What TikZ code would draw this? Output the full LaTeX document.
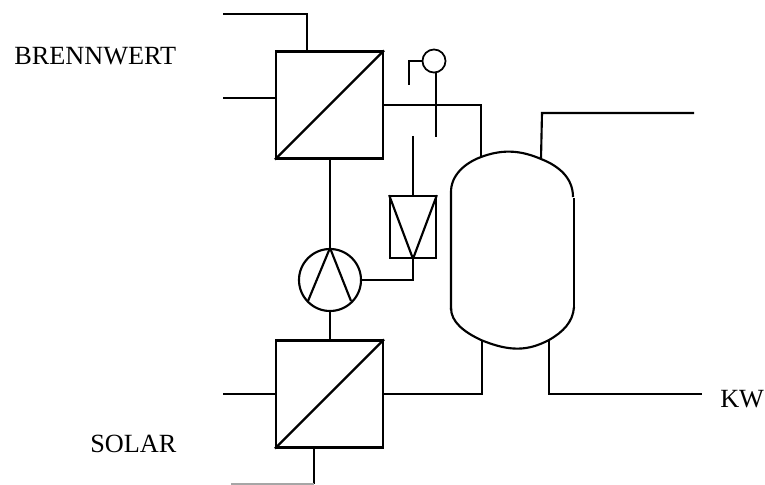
\documentclass[tikz,border=0pt]{standalone}
\usepackage{fontspec}
\setmainfont{Liberation Serif}
\tikzset{
  ln/.style={draw=black,line width=1.6pt,line cap=butt,line join=miter},
  thin ln/.style={draw=black,line width=1.3pt},
  lbl/.style={font=\fontsize{19.7pt}{22pt}\selectfont,inner sep=0pt,anchor=base west,text=black},
  hx/.style={draw=black,line width=1.6pt,minimum size=80.25pt,inner sep=0pt,rectangle},
}
\begin{document}
\begin{tikzpicture}[x=0.75pt,y=-0.75pt]
\useasboundingbox (0,0) rectangle (765,485);
\fill[white] (0,0) rectangle (765,485);
\node[lbl] (brenn) at (14,65) {BRENNWERT};
\node[lbl] (solar) at (90,452) {SOLAR};
\node[lbl] (kw) at (720,407) {KW};
\node[hx] (hxa) at (329.5,105) {};
\draw[ln] (hxa.south west) -- (hxa.north east);
\node[hx] (hxb) at (329.5,394) {};
\draw[ln] (hxb.south west) -- (hxb.north east);
\node[draw=black,line width=1.6pt,circle,minimum size=46.5pt,inner sep=0pt] (pump) at (330,280) {};
\draw[ln] (pump.north) -- (308,301);
\draw[ln] (pump.north) -- (351,301);
\node[draw=black,line width=1.3pt,rectangle,minimum width=34.5pt,minimum height=46.5pt,inner sep=0pt] (valve) at (413,227) {};
\draw[ln] (valve.north west) -- (valve.south) -- (valve.north east);
\node[draw=black,line width=1.3pt,circle,minimum size=17.3pt,inner sep=0pt] (sensor) at (434,61) {};
\coordinate (a1) at (223,14);
\coordinate (a2) at (307,14);
\draw[ln] (a1) -- (a2) -- (a2 |- hxa.north);
\coordinate (a3) at (223,98);
\draw[ln] (a3) -- (a3 -| hxa.west);
\coordinate (t1) at (481,105);
\coordinate (t2) at (481,157);
\draw[ln] (hxa.east |- t1) -- (t1) -- (t2);
\draw[ln] (pump.north |- hxa.south) -- (pump.north);
\draw[ln] (pump.south) -- (pump.south |- hxb.north);
\coordinate (s0) at (436,73);
\coordinate (s1) at (436,137);
\draw[thin ln] (s0) -- (s1);
\coordinate (s2) at (409,61);
\coordinate (s3) at (409,85);
\draw[thin ln] (sensor.west) -- (s2) -- (s3);
\coordinate (v1) at (413,136);
\draw[ln] (v1) -- (valve.north);
\coordinate (v2) at (413,280);
\draw[ln] (valve.south) -- (v2) -- (pump.east);
\coordinate (b1) at (223,394);
\draw[ln] (b1) -- (hxb.west);
\coordinate (b2) at (314,484);
\coordinate (b3) at (231,484);
\draw[ln] (b2 |- hxb.south) -- (b2);
\draw[draw=black!35,line width=1.2pt] (b2) -- (b3);
\coordinate (t3) at (482,394);
\coordinate (t4) at (482,340);
\draw[ln] (hxb.east) -- (t3) -- (t4);
\coordinate (u1) at (541,159);
\coordinate (u2) at (542,113);
\coordinate (u3) at (694,113);
\draw[ln] (u1) -- (u2) -- (u3);
\coordinate (w1) at (549,341);
\coordinate (w2) at (549,394);
\coordinate (w3) at (702,394);
\draw[ln] (w1) -- (w2) -- (w3);
% storage tank
\draw[ln] (451,310) -- (451,192) .. controls (451,175) and (465,163) .. (481,157) .. controls (500,150) and (518,149) .. (541,159) .. controls (559,166) and (573,178) .. (573,197);
\draw[ln] (574,198) -- (574,307);
\draw[ln] (574,307) .. controls (573,322) and (563,332) .. (549,340) .. controls (528,351) and (510,352) .. (481,340) .. controls (464,332) and (451,322) .. (451,308);
\end{tikzpicture}
\end{document}
